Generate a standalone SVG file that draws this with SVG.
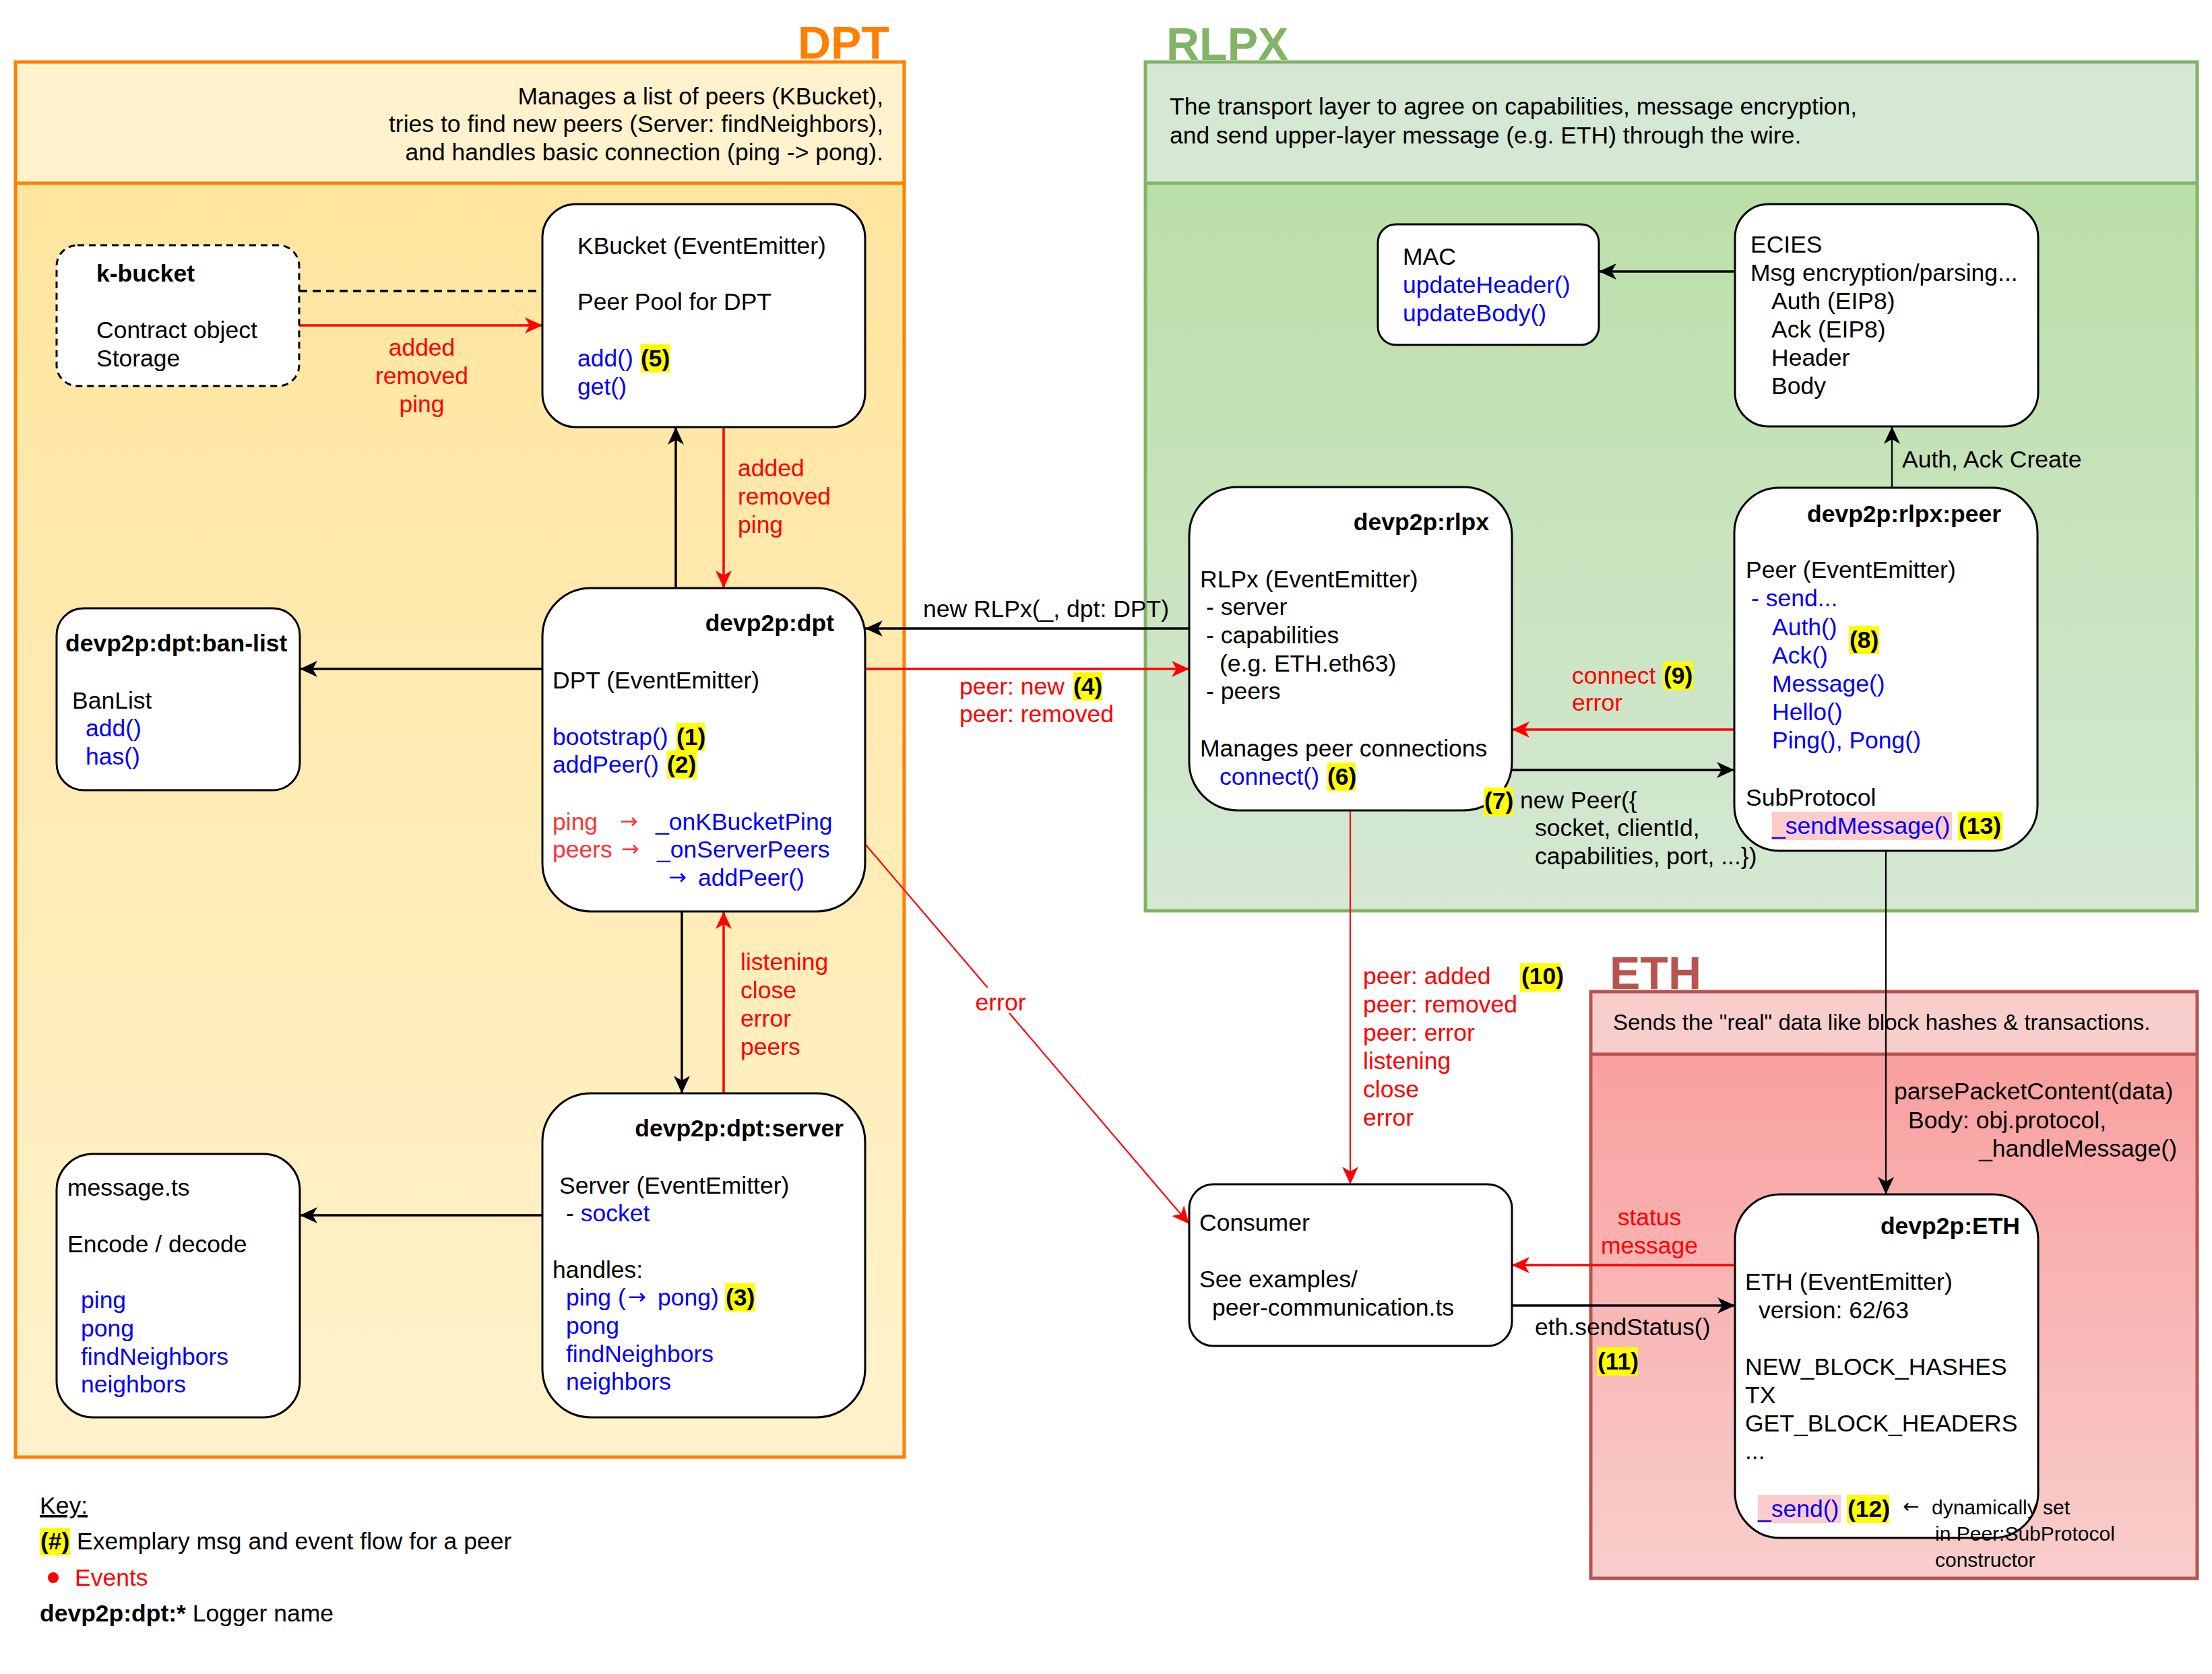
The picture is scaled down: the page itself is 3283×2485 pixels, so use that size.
<svg xmlns="http://www.w3.org/2000/svg" width="3283" height="2485" viewBox="0 0 3283 2485">
  <style>
    text { font-family: "Liberation Sans", Arial, Helvetica, sans-serif; font-size: 35.5px; fill: #000; }
    .b { font-weight: bold; }
    .blue { fill: #0000FF; }
    .red { fill: #FF0000; }
    .lred { fill: #FF3333; }
    .sm { font-size: 30px; }
    .hd { font-size: 33px; }
    .arw { font-family: "DejaVu Sans", "Liberation Sans", sans-serif; font-size: 32px; }
    .title { font-size: 68px; font-weight: bold; }
    .end { text-anchor: end; }
    .mid { text-anchor: middle; }
    .node { fill: #FFFFFF; stroke: #000; stroke-width: 3; }
    .hl { fill: #FFFF00; }
    .pk { fill: #FFCCCC; }
    .ln { fill: none; stroke: #000; stroke-width: 3.5; }
    .lr { fill: none; stroke: #FF0000; stroke-width: 3.5; }
    .thin { stroke-width: 2.2; }
  </style>
  <defs>
    <linearGradient id="gDpt" x1="0" y1="0" x2="0" y2="1">
      <stop offset="0" stop-color="#FFE59E"/>
      <stop offset="1" stop-color="#FFF2CC"/>
    </linearGradient>
    <linearGradient id="gRlpx" x1="0" y1="0" x2="0" y2="1">
      <stop offset="0" stop-color="#BBDFA8"/>
      <stop offset="1" stop-color="#D5E8D4"/>
    </linearGradient>
    <linearGradient id="gEth" x1="0" y1="0" x2="0" y2="1">
      <stop offset="0" stop-color="#F9A0A0"/>
      <stop offset="1" stop-color="#F8CECC"/>
    </linearGradient>
    <marker id="ab" markerUnits="userSpaceOnUse" viewBox="0 0 28 26" markerWidth="28" markerHeight="26" refX="27" refY="13" orient="auto">
      <path d="M1,1 L27,13 L1,25 L8,13 Z" fill="#000"/>
    </marker>
    <marker id="ar" markerUnits="userSpaceOnUse" viewBox="0 0 28 26" markerWidth="28" markerHeight="26" refX="27" refY="13" orient="auto">
      <path d="M1,1 L27,13 L1,25 L8,13 Z" fill="#FF0000"/>
    </marker>
  </defs>

  <rect x="0" y="0" width="3283" height="2485" fill="#FFFFFF"/>

  <!-- layer containers -->
  <g id="layer-dpt">
    <rect x="23" y="272" width="1319" height="1891" fill="url(#gDpt)"/>
    <rect x="23" y="92" width="1319" height="180" fill="#FFF2CC"/>
    <rect x="23" y="92" width="1319" height="2071" fill="none" stroke="#FF8000" stroke-width="5"/>
    <line x1="23" y1="272" x2="1342" y2="272" stroke="#FF8000" stroke-width="5"/>
    <text class="title end" x="1320" y="87" style="fill:#FF8000">DPT</text>
    <text class="end" x="1311" y="155">Manages a list of peers (KBucket),</text>
    <text class="end" x="1311" y="196">tries to find new peers (Server: findNeighbors),</text>
    <text class="end" x="1311" y="238">and handles basic connection (ping -&gt; pong).</text>
  </g>
  <g id="layer-rlpx">
    <rect x="1700" y="272" width="1561" height="1080" fill="url(#gRlpx)"/>
    <rect x="1700" y="92" width="1561" height="180" fill="#D5E8D4"/>
    <rect x="1700" y="92" width="1561" height="1260" fill="none" stroke="#82B366" stroke-width="5"/>
    <line x1="1700" y1="272" x2="3261" y2="272" stroke="#82B366" stroke-width="5"/>
    <text class="title" x="1731" y="89" style="fill:#82B366">RLPX</text>
    <text x="1736" y="170">The transport layer to agree on capabilities, message encryption,</text>
    <text x="1736" y="213">and send upper-layer message (e.g. ETH) through the wire.</text>
  </g>
  <g id="layer-eth">
    <rect x="2361" y="1565" width="900" height="778" fill="url(#gEth)"/>
    <rect x="2361" y="1472" width="900" height="93" fill="#F8CECC"/>
    <rect x="2361" y="1472" width="900" height="871" fill="none" stroke="#B85450" stroke-width="5"/>
    <line x1="2361" y1="1565" x2="3261" y2="1565" stroke="#B85450" stroke-width="5"/>
    <text class="title" x="2389" y="1468" style="fill:#B85450">ETH</text>
    <text class="hd" x="2394" y="1529">Sends the "real" data like block hashes &amp; transactions.</text>
  </g>

  <!-- connectors -->
  <g id="connectors">
    <line class="ln" x1="444" y1="432" x2="805" y2="432" stroke-dasharray="12 8"/>
    <line class="lr" x1="444" y1="483" x2="805" y2="483" marker-end="url(#ar)"/>
    <line class="ln" x1="1003" y1="873" x2="1003" y2="634" marker-end="url(#ab)"/>
    <line class="lr" x1="1074" y1="634" x2="1074" y2="873" marker-end="url(#ar)"/>
    <line class="ln" x1="805" y1="993" x2="445" y2="993" marker-end="url(#ab)"/>
    <line class="ln" x1="1765" y1="933" x2="1284" y2="933" marker-end="url(#ab)"/>
    <line class="lr" x1="1284" y1="993" x2="1765" y2="993" marker-end="url(#ar)"/>
    <line class="ln" x1="1012" y1="1353" x2="1012" y2="1623" marker-end="url(#ab)"/>
    <line class="lr" x1="1074" y1="1623" x2="1074" y2="1353" marker-end="url(#ar)"/>
    <line class="ln" x1="805" y1="1804" x2="445" y2="1804" marker-end="url(#ab)"/>
    <line class="lr thin" x1="1284" y1="1253" x2="1765" y2="1817" marker-end="url(#ar)"/>
    <line class="lr thin" x1="2004" y1="1203" x2="2004" y2="1758" marker-end="url(#ar)"/>
    <line class="lr" x1="2574" y1="1083" x2="2244" y2="1083" marker-end="url(#ar)"/>
    <line class="ln" x1="2244" y1="1143" x2="2574" y2="1143" marker-end="url(#ab)"/>
    <line class="ln thin" x1="2808" y1="724" x2="2808" y2="633" marker-end="url(#ab)"/>
    <line class="ln" x1="2575" y1="403" x2="2373" y2="403" marker-end="url(#ab)"/>
    <line class="ln thin" x1="2799" y1="1263" x2="2799" y2="1773" marker-end="url(#ab)"/>
    <line class="lr" x1="2575" y1="1878" x2="2244" y2="1878" marker-end="url(#ar)"/>
    <line class="ln" x1="2244" y1="1938" x2="2575" y2="1938" marker-end="url(#ab)"/>
  </g>

  <!-- nodes -->
  <g id="k-bucket">
    <rect class="node" x="84" y="364" width="360" height="209" rx="31" stroke-dasharray="10 7"/>
    <text class="b" x="143" y="418">k-bucket</text>
    <text x="143" y="502">Contract object</text>
    <text x="143" y="544">Storage</text>
  </g>
  <g id="kbucket">
    <rect class="node" x="805" y="303" width="479" height="331" rx="50"/>
    <text x="857" y="377">KBucket (EventEmitter)</text>
    <text x="857" y="460">Peer Pool for DPT</text>
    <text class="blue" x="857" y="544">add()</text>
    <rect class="hl" x="951" y="511" width="43" height="42"/>
    <text class="b" x="951" y="544">(5)</text>
    <text class="blue" x="857" y="586">get()</text>
  </g>
  <g id="ban-list">
    <rect class="node" x="84" y="903" width="361" height="270" rx="40"/>
    <text class="b" x="97" y="967">devp2p:dpt:ban-list</text>
    <text x="107" y="1052">BanList</text>
    <text class="blue" x="127" y="1093">add()</text>
    <text class="blue" x="127" y="1135">has()</text>
  </g>
  <g id="dpt">
    <rect class="node" x="805" y="873" width="479" height="480" rx="72"/>
    <text class="b end" x="1238" y="937">devp2p:dpt</text>
    <text x="820" y="1022">DPT (EventEmitter)</text>
    <text class="blue" x="820" y="1106">bootstrap()</text>
    <rect class="hl" x="1004" y="1073" width="42" height="42"/>
    <text class="b" x="1004" y="1106">(1)</text>
    <text class="blue" x="820" y="1147">addPeer()</text>
    <rect class="hl" x="990" y="1114" width="44" height="42"/>
    <text class="b" x="990" y="1147">(2)</text>
    <text class="lred" x="820" y="1232">ping</text>
    <text class="lred arw" x="920" y="1230">→</text>
    <text class="blue" x="973" y="1232">_onKBucketPing</text>
    <text class="lred" x="820" y="1273">peers</text>
    <text class="lred arw" x="922" y="1271">→</text>
    <text class="blue" x="975" y="1273">_onServerPeers</text>
    <text class="blue arw" x="992" y="1313">→</text>
    <text class="blue" x="1036" y="1315">addPeer()</text>
  </g>
  <g id="dpt-server">
    <rect class="node" x="805" y="1623" width="479" height="481" rx="72"/>
    <text class="b end" x="1252" y="1687">devp2p:dpt:server</text>
    <text x="830" y="1772">Server (EventEmitter)</text>
    <text x="840" y="1813">- <tspan class="blue">socket</tspan></text>
    <text x="820" y="1897">handles:</text>
    <text class="blue" x="840" y="1938">ping (</text>
    <text class="blue arw" x="932" y="1936">→</text>
    <text class="blue" x="976" y="1938">pong)</text>
    <rect class="hl" x="1076" y="1905" width="45" height="42"/>
    <text class="b" x="1077" y="1938">(3)</text>
    <text class="blue" x="840" y="1980">pong</text>
    <text class="blue" x="840" y="2022">findNeighbors</text>
    <text class="blue" x="840" y="2063">neighbors</text>
  </g>
  <g id="message-ts">
    <rect class="node" x="84" y="1713" width="361" height="391" rx="54"/>
    <text x="100" y="1775">message.ts</text>
    <text x="100" y="1859">Encode / decode</text>
    <text class="blue" x="120" y="1942">ping</text>
    <text class="blue" x="120" y="1984">pong</text>
    <text class="blue" x="120" y="2026">findNeighbors</text>
    <text class="blue" x="120" y="2067">neighbors</text>
  </g>
  <g id="mac">
    <rect class="node" x="2045" y="333" width="328" height="179" rx="27"/>
    <text x="2082" y="393">MAC</text>
    <text class="blue" x="2082" y="435">updateHeader()</text>
    <text class="blue" x="2082" y="477">updateBody()</text>
  </g>
  <g id="ecies">
    <rect class="node" x="2575" y="303" width="450" height="330" rx="50"/>
    <text x="2598" y="375">ECIES</text>
    <text x="2598" y="417">Msg encryption/parsing...</text>
    <text x="2629" y="459">Auth (EIP8)</text>
    <text x="2629" y="501">Ack (EIP8)</text>
    <text x="2629" y="543">Header</text>
    <text x="2629" y="585">Body</text>
  </g>
  <g id="rlpx">
    <rect class="node" x="1765" y="723" width="479" height="480" rx="72"/>
    <text class="b end" x="2210" y="787">devp2p:rlpx</text>
    <text x="1781" y="872">RLPx (EventEmitter)</text>
    <text x="1790" y="913">- server</text>
    <text x="1790" y="955">- capabilities</text>
    <text x="1810" y="997">(e.g. ETH.eth63)</text>
    <text x="1790" y="1038">- peers</text>
    <text x="1781" y="1123">Manages peer connections</text>
    <text class="blue" x="1810" y="1165">connect()</text>
    <rect class="hl" x="1970" y="1132" width="42" height="42"/>
    <text class="b" x="1970" y="1165">(6)</text>
  </g>
  <g id="rlpx-peer">
    <rect class="node" x="2574" y="724" width="450" height="539" rx="67"/>
    <text class="b end" x="2970" y="775">devp2p:rlpx:peer</text>
    <text x="2591" y="858">Peer (EventEmitter)</text>
    <text class="blue" x="2599" y="900">- send...</text>
    <text class="blue" x="2630" y="943">Auth()</text>
    <text class="blue" x="2630" y="985">Ack()</text>
    <rect class="hl" x="2744" y="929" width="45" height="42"/>
    <text class="b" x="2745" y="962">(8)</text>
    <text class="blue" x="2630" y="1027">Message()</text>
    <text class="blue" x="2630" y="1069">Hello()</text>
    <text class="blue" x="2630" y="1111">Ping(), Pong()</text>
    <text x="2591" y="1196">SubProtocol</text>
    <rect class="pk" x="2630" y="1205" width="267" height="42"/>
    <text class="blue" x="2630" y="1238">_sendMessage()</text>
    <rect class="hl" x="2906" y="1205" width="66" height="42"/>
    <text class="b" x="2907" y="1238">(13)</text>
  </g>
  <g id="consumer">
    <rect class="node" x="1765" y="1758" width="479" height="240" rx="36"/>
    <text x="1780" y="1827">Consumer</text>
    <text x="1780" y="1911">See examples/</text>
    <text x="1799" y="1953">peer-communication.ts</text>
  </g>
  <g id="eth">
    <rect class="node" x="2575" y="1773" width="450" height="510" rx="67"/>
    <text class="b end" x="2998" y="1832">devp2p:ETH</text>
    <text x="2590" y="1915">ETH (EventEmitter)</text>
    <text x="2610" y="1957">version: 62/63</text>
    <text x="2590" y="2041">NEW_BLOCK_HASHES</text>
    <text x="2590" y="2083">TX</text>
    <text x="2590" y="2125">GET_BLOCK_HEADERS</text>
    <text x="2590" y="2166">...</text>
    <rect class="pk" x="2609" y="2219" width="123" height="42"/>
    <text class="blue" x="2609" y="2252">_send()</text>
    <rect class="hl" x="2741" y="2219" width="63" height="42"/>
    <text class="b" x="2742" y="2252">(12)</text>
  </g>

  <!-- connector labels -->
  <g id="labels">
    <text class="red mid" x="626" y="528">added</text>
    <text class="red mid" x="626" y="570">removed</text>
    <text class="red mid" x="626" y="612">ping</text>

    <text class="red" x="1095" y="707">added</text>
    <text class="red" x="1095" y="749">removed</text>
    <text class="red" x="1095" y="791">ping</text>

    <text x="1370" y="916">new RLPx(_, dpt: DPT)</text>

    <text class="red" x="1424" y="1031">peer: new</text>
    <rect class="hl" x="1593" y="998" width="43" height="42"/>
    <text class="b" x="1593" y="1031">(4)</text>
    <text class="red" x="1424" y="1072">peer: removed</text>

    <text class="red" x="1099" y="1440">listening</text>
    <text class="red" x="1099" y="1482">close</text>
    <text class="red" x="1099" y="1524">error</text>
    <text class="red" x="1099" y="1566">peers</text>

    <rect x="1446" y="1466" width="78" height="38" fill="#FFFFFF"/>
    <text class="red mid" x="1485" y="1500">error</text>

    <text class="red" x="2023" y="1461">peer: added</text>
    <rect class="hl" x="2256" y="1430" width="61" height="42"/>
    <text class="b" x="2258" y="1461">(10)</text>
    <text class="red" x="2023" y="1503">peer: removed</text>
    <text class="red" x="2023" y="1545">peer: error</text>
    <text class="red" x="2023" y="1587">listening</text>
    <text class="red" x="2023" y="1629">close</text>
    <text class="red" x="2023" y="1671">error</text>

    <text class="red" x="2333" y="1015">connect</text>
    <rect class="hl" x="2468" y="982" width="45" height="42"/>
    <text class="b" x="2469" y="1015">(9)</text>
    <text class="red" x="2333" y="1055">error</text>

    <rect class="hl" x="2202" y="1169" width="44" height="42"/>
    <text class="b" x="2203" y="1201">(7)</text>
    <text x="2256" y="1200">new Peer({</text>
    <text x="2278" y="1241">socket, clientId,</text>
    <text x="2278" y="1283">capabilities, port, ...})</text>

    <text x="2823" y="694">Auth, Ack Create</text>

    <text x="2811" y="1632">parsePacketContent(data)</text>
    <text x="2832" y="1675">Body: obj.protocol,</text>
    <text class="end" x="3231" y="1717">_handleMessage()</text>

    <text class="red mid" x="2448" y="1819">status</text>
    <text class="red mid" x="2448" y="1861">message</text>

    <text x="2278" y="1982">eth.sendStatus()</text>
    <rect class="hl" x="2370" y="2000" width="61" height="42"/>
    <text class="b" x="2371" y="2033">(11)</text>

    <text class="arw" x="2824" y="2246" style="font-size:29px">←</text>
    <text class="sm" x="2867" y="2248">dynamically set</text>
    <text class="sm" x="2872" y="2287">in Peer:SubProtocol</text>
    <text class="sm" x="2872" y="2326">constructor</text>
  </g>

  <!-- legend -->
  <g id="key">
    <text x="59" y="2247" text-decoration="underline">Key:</text>
    <rect class="hl" x="59" y="2268" width="45" height="41"/>
    <text class="b" x="60" y="2300">(#)</text>
    <text x="114" y="2300">Exemplary msg and event flow for a peer</text>
    <circle cx="79" cy="2342" r="8" fill="#FF0000"/>
    <text class="red" x="111" y="2354">Events</text>
    <text x="59" y="2407"><tspan class="b">devp2p:dpt:*</tspan> Logger name</text>
  </g>
</svg>
